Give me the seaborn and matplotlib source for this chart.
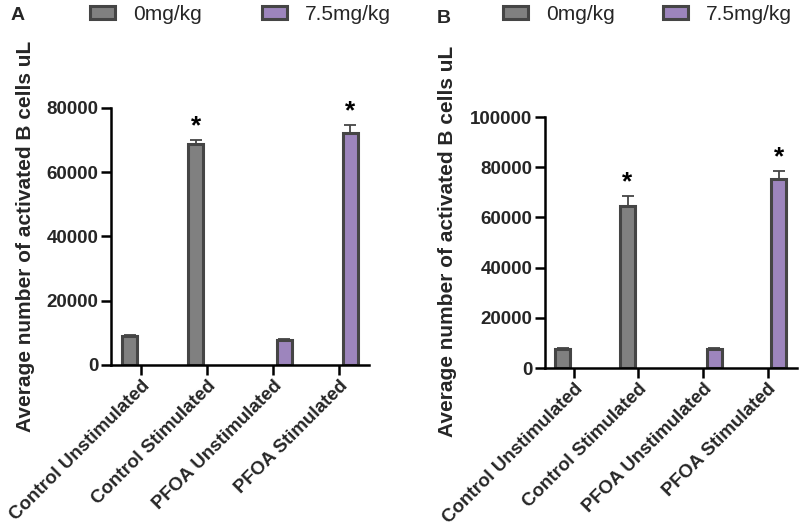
import matplotlib
matplotlib.use("Agg")
import matplotlib.pyplot as plt
import seaborn as sns
import pandas as pd
from matplotlib.patches import Patch

sns.set_theme(style="ticks")
plt.rcParams['font.family'] = ['Liberation Sans', 'DejaVu Sans']

categories = ["Control Unstimulated", "Control Stimulated", "PFOA Unstimulated", "PFOA Stimulated"]
doses = ["0mg/kg", "0mg/kg", "7.5mg/kg", "7.5mg/kg"]
hue_order = ["0mg/kg", "7.5mg/kg"]

values_a = [9000, 68800, 7800, 72200]
errors_a = [350, 1300, 400, 2600]
stars_a = ["", "*", "", "*"]

values_b = [7600, 64600, 7600, 75300]
errors_b = [400, 4100, 450, 3200]
stars_b = ["", "*", "", "*"]

palette = {"0mg/kg": "#808080", "7.5mg/kg": "#9d85bd"}
edge = "#454545"
ylabel = "Average number of activated B cells uL"

fig = plt.figure(figsize=(8, 5.32), dpi=100)
ax_a = fig.add_axes([0.139, 0.314, 0.322, 0.483])
ax_b = fig.add_axes([0.681, 0.308, 0.315, 0.472])


def draw(ax, values, errors, stars, ymax, yticks):
    df = pd.DataFrame({"category": categories, "dose": doses, "value": values})
    sns.barplot(data=df, x="category", y="value", hue="dose", hue_order=hue_order,
                order=categories, palette=palette, dodge=True, width=0.68, gap=0.32,
                edgecolor=edge, linewidth=2.2, errorbar=None, ax=ax, legend=False,
                saturation=1)
    bars = [p for p in ax.patches if p.get_height() > 0]
    bars.sort(key=lambda p: p.get_x())
    for p, v, e, s in zip(bars, values, errors, stars):
        cx = p.get_x() + p.get_width() / 2
        ax.errorbar([cx], [v], yerr=[[0], [e]], fmt="none", ecolor=edge,
                    elinewidth=1.3, capsize=4, capthick=1.3, zorder=1)
        if s:
            ax.text(cx, v + e + ymax * 0.005, s, ha="center", va="bottom",
                    fontsize=19, fontweight="bold", color="black", clip_on=False)
    ax.set_xlim(-0.45, 3.45)
    ax.set_ylim(0, ymax)
    ax.set_yticks(yticks)
    ax.set_yticklabels([str(t) for t in yticks], fontsize=13.5, fontweight="bold")
    ax.set_xticks(range(len(categories)))
    ax.set_xticklabels(categories, rotation=45, ha="right", rotation_mode="anchor",
                       fontsize=13.5, fontweight="bold")
    ax.set_xlabel("")
    ax.set_ylabel(ylabel, fontsize=15, fontweight="bold")
    sns.despine(ax=ax)
    for sp in ["left", "bottom"]:
        ax.spines[sp].set_linewidth(1.8)
        ax.spines[sp].set_color("black")
    ax.tick_params(axis="both", direction="out", length=7, width=1.8, color="black", pad=2)
    ax.set_facecolor("white")


draw(ax_a, values_a, errors_a, stars_a, 80000, [0, 20000, 40000, 60000, 80000])
draw(ax_b, values_b, errors_b, stars_b, 100000, [0, 20000, 40000, 60000, 80000, 100000])
ax_a.yaxis.set_label_coords(-0.295, 0.502)
ax_b.yaxis.set_label_coords(-0.349, 0.506)

handles = [Patch(facecolor=palette[h], edgecolor=edge, linewidth=2.2, label=h) for h in hue_order]
legend_x = [(0.1125, 0), (0.3275, 1), (0.629, 0), (0.829, 1)]
for x0, i in legend_x:
    fig.legend(handles=[handles[i]], loc="center left", bbox_to_anchor=(x0, 0.973),
               frameon=False, fontsize=15, handlelength=1.2, handleheight=0.55,
               handletextpad=0.85, borderaxespad=0, borderpad=0)
fig.text(0.013, 0.970, "A", fontsize=14, fontweight="bold", va="center", ha="left")
fig.text(0.546, 0.966, "B", fontsize=14, fontweight="bold", va="center", ha="left")

fig.savefig("out.png", dpi=100, facecolor="white")
